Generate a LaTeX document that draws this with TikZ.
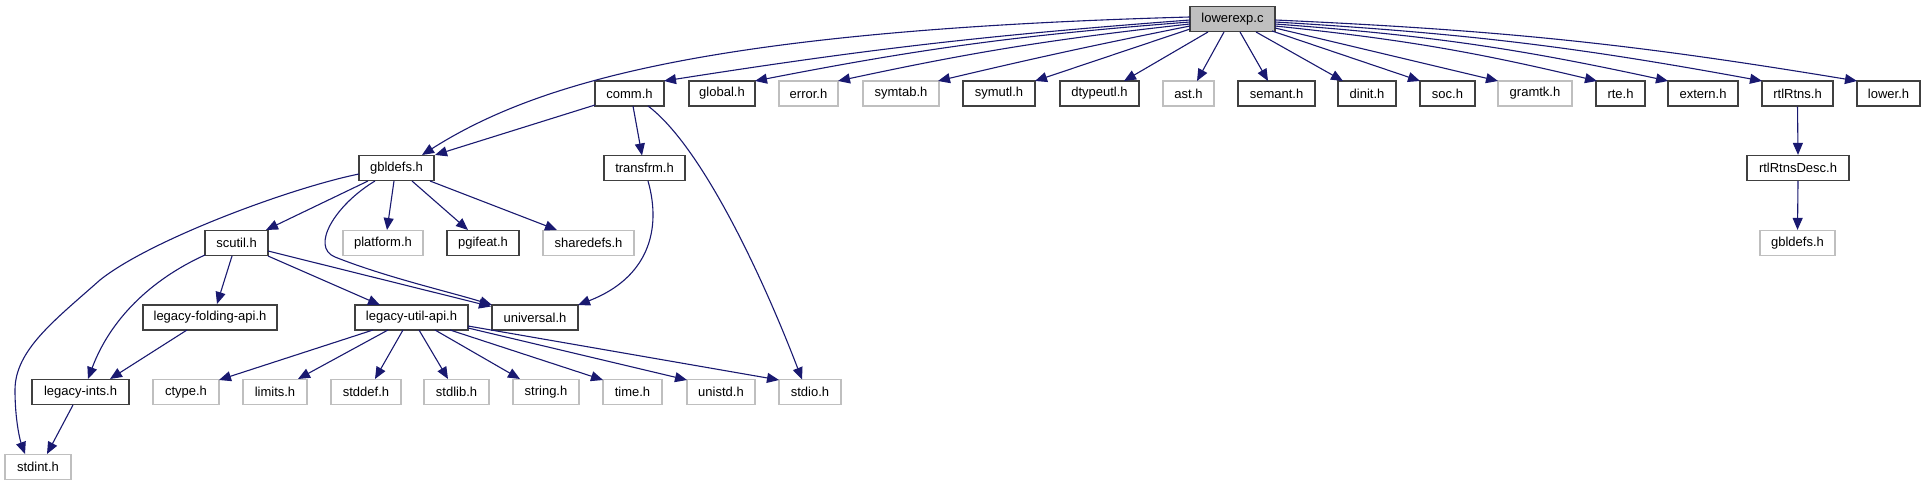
\documentclass[tikz,border=0pt]{standalone}
\usepackage{fontspec}
\setmainfont{Liberation Sans}
\usetikzlibrary{arrows.meta}
\definecolor{edgec}{RGB}{25,25,112}
\definecolor{grayb}{RGB}{191,191,191}
\definecolor{darkb}{RGB}{64,64,64}
\begin{document}
\begin{tikzpicture}[x=0.5pt,y=-0.5pt,
  box/.style={draw=darkb, line width=0.6pt, fill=white, minimum height=12.5pt, inner sep=0pt, font=\fontsize{6.5}{7}\selectfont, text=black},
  gbox/.style={box, draw=grayb},
  rootbox/.style={box, fill=grayb},
  wd/.style={minimum width=#1*0.5pt},
  edge/.style={draw=edgec, line width=0.55pt, -{Triangle[length=6pt,width=5pt]}}]
\useasboundingbox (0,0) rectangle (1925,485);

% nodes
\node[rootbox,wd=85] (lowerexp) at (1232.5,19) {lowerexp.c};
\node[box,wd=69] (comm) at (629.5,93.5) {comm.h};
\node[box,wd=66] (global) at (722,93.5) {global.h};
\node[gbox,wd=59] (error) at (808.5,93.5) {error.h};
\node[gbox,wd=76] (symtab) at (901,93.5) {symtab.h};
\node[box,wd=72] (symutl) at (999,93.5) {symutl.h};
\node[box,wd=79] (dtypeutl) at (1099.5,93.5) {dtypeutl.h};
\node[gbox,wd=51] (ast) at (1188.5,93.5) {ast.h};
\node[box,wd=77] (semant) at (1276.5,93.5) {semant.h};
\node[box,wd=58] (dinit) at (1367,93.5) {dinit.h};
\node[box,wd=55] (soc) at (1447.5,93.5) {soc.h};
\node[gbox,wd=74] (gramtk) at (1535,93.5) {gramtk.h};
\node[box,wd=49] (rte) at (1620.5,93.5) {rte.h};
\node[box,wd=70] (extern) at (1703,93.5) {extern.h};
\node[box,wd=71] (rtlRtns) at (1797.5,93.5) {rtlRtns.h};
\node[box,wd=63] (lower) at (1888.5,93.5) {lower.h};

\node[box,wd=75] (gbldefs) at (396.5,168) {gbldefs.h};
\node[box,wd=81] (transfrm) at (644.5,168) {transfrm.h};
\node[box,wd=102] (rtlRtnsDesc) at (1798,168) {rtlRtnsDesc.h};

\node[box,wd=63] (scutil) at (236.5,243) {scutil.h};
\node[gbox,wd=80] (platform) at (383,243) {platform.h};
\node[box,wd=72] (pgifeat) at (483,243) {pgifeat.h};
\node[gbox,wd=91] (sharedefs) at (588.5,243) {sharedefs.h};
\node[gbox,wd=75] (gbldefsb) at (1797.5,243) {gbldefs.h};

\node[box,wd=134] (legfold) at (210,317.5) {legacy-folding-api.h};
\node[box,wd=113] (legutil) at (411.5,317.5) {legacy-util-api.h};
\node[box,wd=86] (universal) at (535,317.5) {universal.h};

\node[box,wd=97] (legints) at (80.5,392) {legacy-ints.h};
\node[gbox,wd=66] (ctype) at (186,392) {ctype.h};
\node[gbox,wd=64] (limits) at (275,392) {limits.h};
\node[gbox,wd=70] (stddef) at (366,392) {stddef.h};
\node[gbox,wd=65] (stdlib) at (456.5,392) {stdlib.h};
\node[gbox,wd=66] (string) at (546,392) {string.h};
\node[gbox,wd=59] (time) at (632.5,392) {time.h};
\node[gbox,wd=68] (unistd) at (721,392) {unistd.h};
\node[gbox,wd=62] (stdio) at (810,392) {stdio.h};

\node[gbox,wd=66] (stdint) at (38,467) {stdint.h};

% edges from lowerexp.c
\draw[edge] ([shift={(-42.5,-2)}]lowerexp.center) .. controls (720,30) and (540,80) .. ([shift={(25.5,-13)}]gbldefs.center);
\draw[edge] ([shift={(-42.5,1)}]lowerexp.center) to[bend right=2.3] ([shift={(34.5,-12.5)}]comm.center);
\draw[edge] ([shift={(-42.5,3)}]lowerexp.center) to[bend right=3.3] ([shift={(33,-12.5)}]global.center);
\draw[edge] ([shift={(-42.5,5)}]lowerexp.center) to[bend right=2.9] ([shift={(29.5,-12.5)}]error.center);
\draw[edge] ([shift={(-42.5,7)}]lowerexp.center) to[bend right=1] ([shift={(37,-12.5)}]symtab.center);
\draw[edge] ([shift={(-42.5,10)}]lowerexp.center) -- ([shift={(36,-12.5)}]symutl.center);
\draw[edge] ([shift={(-24.5,13)}]lowerexp.center) -- ([shift={(24.5,-12.5)}]dtypeutl.center);
\draw[edge] ([shift={(-8.5,13)}]lowerexp.center) -- ([shift={(8.5,-12.5)}]ast.center);
\draw[edge] ([shift={(7.5,13)}]lowerexp.center) -- ([shift={(-8.5,-12.5)}]semant.center);
\draw[edge] ([shift={(23.5,13)}]lowerexp.center) -- ([shift={(-24,-12.5)}]dinit.center);
\draw[edge] ([shift={(39.5,12)}]lowerexp.center) -- ([shift={(-27.5,-12.5)}]soc.center);
\draw[edge] ([shift={(42.5,9)}]lowerexp.center) -- ([shift={(-37,-12.5)}]gramtk.center);
\draw[edge] ([shift={(42.5,7)}]lowerexp.center) to[bend left=3.7] ([shift={(-23.5,-12.5)}]rte.center);
\draw[edge] ([shift={(42.5,5)}]lowerexp.center) to[bend left=4] ([shift={(-35,-12.5)}]extern.center);
\draw[edge] ([shift={(42.5,3)}]lowerexp.center) to[bend left=3.5] ([shift={(-35.5,-12.5)}]rtlRtns.center);
\draw[edge] ([shift={(42.5,1)}]lowerexp.center) to[bend left=3.4] ([shift={(-31.5,-12.5)}]lower.center);

% comm.h
\draw[edge] ([shift={(-34.5,11.5)}]comm.center) -- ([shift={(38.5,-13)}]gbldefs.center);
\draw[edge] ([shift={(3.5,12.5)}]comm.center) -- ([shift={(-2.5,-12.5)}]transfrm.center);
\draw[edge] ([shift={(18.5,12.5)}]comm.center) .. controls (700,145) and (760,270) .. ([shift={(-8,-12.5)}]stdio.center);
% transfrm.h
\draw[edge] ([shift={(3.5,13)}]transfrm.center) .. controls (662,230) and (648,278) .. ([shift={(43,-12.5)}]universal.center);

% gbldefs.h
\draw[edge] ([shift={(-37.5,6)}]gbldefs.center) .. controls (290,188) and (150,240) .. (100,280) .. controls (55,320) and (15,350) .. (15,390) .. controls (15,420) and (20,440) .. ([shift={(-13,-13)}]stdint.center);
\draw[edge] ([shift={(-28.5,13)}]gbldefs.center) -- ([shift={(29.5,-13)}]scutil.center);
\draw[edge] ([shift={(-21.5,13)}]gbldefs.center) .. controls (335,205) and (310,247) .. (335,257) .. controls (385,277) and (450,292) .. ([shift={(-43,-12.5)}]universal.center);
\draw[edge] ([shift={(-2.5,13)}]gbldefs.center) -- ([shift={(4,-13)}]platform.center);
\draw[edge] ([shift={(15.5,13)}]gbldefs.center) -- ([shift={(-15,-13)}]pgifeat.center);
\draw[edge] ([shift={(33.5,13)}]gbldefs.center) -- ([shift={(-31.5,-13)}]sharedefs.center);

% scutil.h
\draw[edge] ([shift={(-31.5,12)}]scutil.center) .. controls (150,280) and (110,320) .. ([shift={(7.5,-13)}]legints.center);
\draw[edge] ([shift={(-4.5,13)}]scutil.center) -- ([shift={(7,-13.5)}]legfold.center);
\draw[edge] ([shift={(31.5,13)}]scutil.center) -- ([shift={(-31.5,-12.5)}]legutil.center);
\draw[edge] ([shift={(31.5,8)}]scutil.center) -- ([shift={(-44,-11)}]universal.center);

% legacy-folding-api.h, legacy-ints.h
\draw[edge] ([shift={(-23,12.5)}]legfold.center) -- ([shift={(29.5,-13)}]legints.center);
\draw[edge] ([shift={(-7.5,13)}]legints.center) -- ([shift={(9,-13)}]stdint.center);

% legacy-util-api.h
\draw[edge] ([shift={(-38.5,12.5)}]legutil.center) -- ([shift={(33,-12)}]ctype.center);
\draw[edge] ([shift={(-23.5,12.5)}]legutil.center) -- ([shift={(23,-13)}]limits.center);
\draw[edge] ([shift={(-8.5,12.5)}]legutil.center) -- ([shift={(9,-13)}]stddef.center);
\draw[edge] ([shift={(7.5,12.5)}]legutil.center) -- ([shift={(-8.5,-13)}]stdlib.center);
\draw[edge] ([shift={(23.5,12.5)}]legutil.center) -- ([shift={(-26,-13)}]string.center);
\draw[edge] ([shift={(38.5,12.5)}]legutil.center) -- ([shift={(-29.5,-12)}]time.center);
\draw[edge] ([shift={(56.5,10.5)}]legutil.center) -- ([shift={(-34,-12)}]unistd.center);
\draw[edge] ([shift={(56.5,8.5)}]legutil.center) -- ([shift={(-31,-12)}]stdio.center);

% rtlRtns chain
\draw[edge] (rtlRtns.south) -- (rtlRtnsDesc.north);
\draw[edge] (rtlRtnsDesc.south) -- (gbldefsb.north);
\end{tikzpicture}
\end{document}
